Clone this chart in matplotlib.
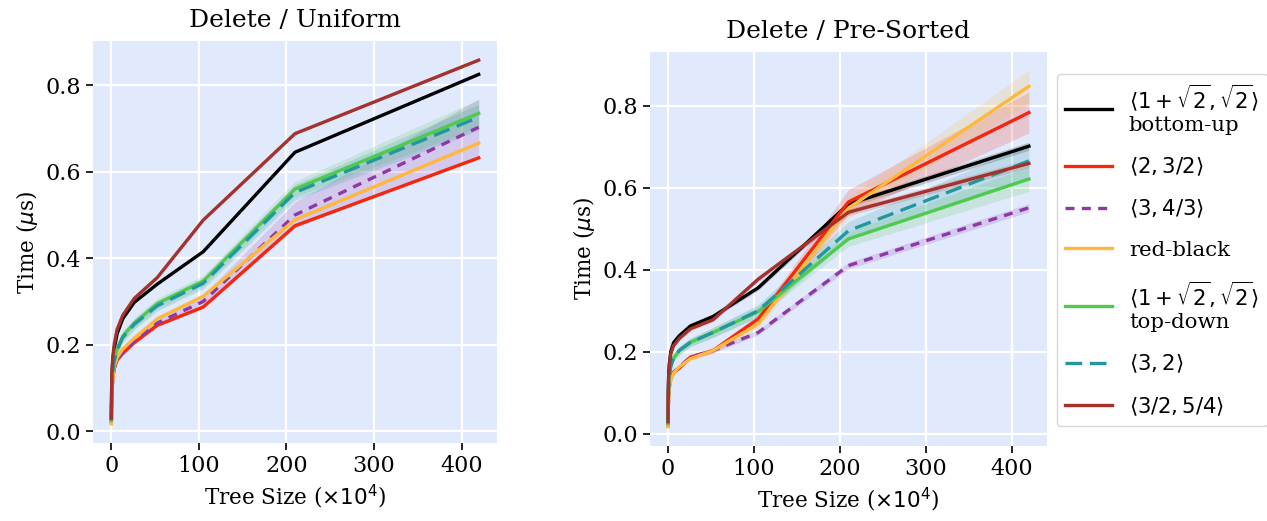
import numpy as np
import matplotlib
matplotlib.use("Agg")
import matplotlib.pyplot as plt

plt.rcParams['font.family'] = 'DejaVu Serif'

# tree sizes, in units of 10^4 (2^10 .. 2^22 keys)
sizes = [0.1, 0.2, 0.4, 0.8, 1.6, 3.3, 6.6, 13.1, 26.2, 52.4, 104.9, 209.7, 419.4]

labels = [r'$\langle 1+\sqrt{2}, \sqrt{2}\rangle$' + '\nbottom-up',
          r'$\langle 2, 3/2\rangle$',
          r'$\langle 3, 4/3\rangle$',
          'red-black',
          r'$\langle 1+\sqrt{2}, \sqrt{2}\rangle$' + '\ntop-down',
          r'$\langle 3, 2\rangle$',
          r'$\langle 3/2, 5/4\rangle$']
colors = ['#000000', '#f5260c', '#8e38a6', '#ffb83c', '#4fc94e', '#22979c', '#a4312b']
styles = ['-', '-', (0, (2.7, 2.2)), '-', '-', (0, (5, 2.3)), '-']

# Delete / Uniform (mean time, us)
uni_bu = [0.030, 0.055, 0.090, 0.130, 0.160, 0.190, 0.225, 0.260, 0.298, 0.340, 0.415, 0.645, 0.825]
uni_23 = [0.020, 0.040, 0.065, 0.090, 0.120, 0.145, 0.165, 0.180, 0.205, 0.245, 0.287, 0.475, 0.632]
uni_34 = [0.020, 0.040, 0.065, 0.090, 0.120, 0.145, 0.165, 0.182, 0.208, 0.250, 0.300, 0.500, 0.703]
uni_rb = [0.017, 0.038, 0.065, 0.090, 0.120, 0.150, 0.170, 0.190, 0.215, 0.260, 0.312, 0.489, 0.666]
uni_td = [0.025, 0.050, 0.080, 0.110, 0.140, 0.165, 0.190, 0.220, 0.250, 0.295, 0.347, 0.560, 0.735]
uni_32 = [0.025, 0.048, 0.078, 0.108, 0.137, 0.162, 0.187, 0.217, 0.247, 0.290, 0.342, 0.552, 0.726]
uni_54 = [0.030, 0.060, 0.100, 0.140, 0.170, 0.200, 0.235, 0.268, 0.307, 0.355, 0.488, 0.688, 0.858]
# half width of the shaded bands
uni_bu_err = [0.002] * 13
uni_23_err = [0.002] * 13
uni_34_err = [0.004, 0.004, 0.005, 0.005, 0.006, 0.006, 0.007, 0.008, 0.008, 0.010, 0.015, 0.030, 0.065]
uni_rb_err = [0.002] * 13
uni_td_err = [0.004, 0.004, 0.005, 0.005, 0.006, 0.008, 0.010, 0.012, 0.012, 0.012, 0.013, 0.018, 0.032]
uni_32_err = [0.004, 0.004, 0.005, 0.005, 0.006, 0.008, 0.010, 0.012, 0.012, 0.012, 0.013, 0.018, 0.030]
uni_54_err = [0.002] * 13

# Delete / Pre-Sorted
pre_bu = [0.030, 0.060, 0.100, 0.140, 0.170, 0.200, 0.222, 0.239, 0.263, 0.286, 0.356, 0.560, 0.701]
pre_23 = [0.020, 0.040, 0.065, 0.090, 0.115, 0.135, 0.150, 0.160, 0.187, 0.203, 0.280, 0.565, 0.783]
pre_34 = [0.020, 0.040, 0.065, 0.090, 0.115, 0.135, 0.150, 0.163, 0.187, 0.203, 0.247, 0.410, 0.551]
pre_rb = [0.017, 0.035, 0.060, 0.085, 0.110, 0.130, 0.148, 0.163, 0.183, 0.203, 0.268, 0.550, 0.847]
pre_td = [0.025, 0.050, 0.080, 0.110, 0.140, 0.165, 0.185, 0.203, 0.223, 0.247, 0.298, 0.475, 0.621]
pre_32 = [0.025, 0.050, 0.080, 0.110, 0.140, 0.165, 0.185, 0.203, 0.223, 0.247, 0.300, 0.495, 0.665]
pre_54 = [0.030, 0.060, 0.100, 0.135, 0.165, 0.195, 0.215, 0.232, 0.256, 0.278, 0.377, 0.540, 0.659]
pre_bu_err = [0.003, 0.003, 0.003, 0.003, 0.004, 0.004, 0.004, 0.005, 0.005, 0.005, 0.006, 0.008, 0.010]
pre_23_err = [0.003, 0.003, 0.003, 0.004, 0.004, 0.004, 0.005, 0.005, 0.006, 0.006, 0.010, 0.030, 0.050]
pre_34_err = [0.003, 0.003, 0.003, 0.003, 0.004, 0.004, 0.004, 0.005, 0.005, 0.006, 0.006, 0.008, 0.010]
pre_rb_err = [0.003, 0.003, 0.003, 0.004, 0.004, 0.004, 0.005, 0.005, 0.006, 0.006, 0.010, 0.025, 0.040]
pre_td_err = [0.004, 0.004, 0.005, 0.005, 0.006, 0.007, 0.008, 0.010, 0.010, 0.012, 0.013, 0.018, 0.030]
pre_32_err = [0.004, 0.004, 0.005, 0.005, 0.006, 0.007, 0.008, 0.010, 0.010, 0.012, 0.015, 0.022, 0.040]
pre_54_err = [0.003, 0.003, 0.003, 0.003, 0.004, 0.004, 0.004, 0.005, 0.005, 0.005, 0.006, 0.008, 0.010]

uni = [uni_bu, uni_23, uni_34, uni_rb, uni_td, uni_32, uni_54]
uni_err = [uni_bu_err, uni_23_err, uni_34_err, uni_rb_err, uni_td_err, uni_32_err, uni_54_err]
pre = [pre_bu, pre_23, pre_34, pre_rb, pre_td, pre_32, pre_54]
pre_err = [pre_bu_err, pre_23_err, pre_34_err, pre_rb_err, pre_td_err, pre_32_err, pre_54_err]

fig = plt.figure(figsize=(12.67, 5.21), dpi=100)
ax1 = fig.add_axes([0.0734, 0.1497, 0.3189, 0.7716])
ax2 = fig.add_axes([0.513, 0.144, 0.3133, 0.7562])

x = np.array(sizes)
for ax, data, errs, title in [(ax1, uni, uni_err, 'Delete / Uniform'),
                              (ax2, pre, pre_err, 'Delete / Pre-Sorted')]:
    ax.set_facecolor('#e1e9fc')
    for s in ax.spines.values():
        s.set_visible(False)
    ax.grid(True, color='white', lw=1.6)
    ax.set_axisbelow(True)
    for y, e, c, ls, lab in zip(data, errs, colors, styles, labels):
        y = np.array(y)
        e = np.array(e)
        ax.fill_between(x, y - e, y + e, color=c, alpha=0.18, lw=0)
        ax.plot(x, y, color=c, ls=ls, lw=2.4, label=lab)
    ax.set_xticks([0, 100, 200, 300, 400])
    ax.set_yticks([0.0, 0.2, 0.4, 0.6, 0.8])
    ax.tick_params(labelsize=16, length=5, width=1.2, color='black')
    ax.set_xlabel(r'Tree Size ($\times 10^4$)', fontsize=15.5)
    ax.set_ylabel(r'Time ($\mu$s)', fontsize=15.5)
    ax.set_title(title, fontsize=18, pad=10)

ax2.legend(loc='center left', bbox_to_anchor=(0.834, 0.52), bbox_transform=fig.transFigure,
           fontsize=15.3, labelspacing=0.95, handlelength=2.2, borderaxespad=0)

fig.savefig('out.png', dpi=100)
